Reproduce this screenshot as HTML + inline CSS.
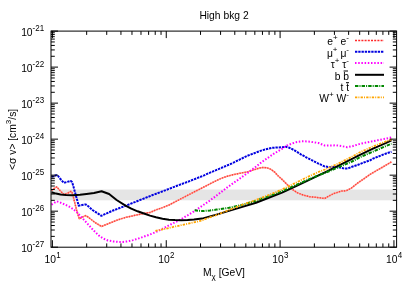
<!DOCTYPE html>
<html><head><meta charset="utf-8"><style>
html,body{margin:0;padding:0;background:#fff;}
svg{display:block;will-change:transform;opacity:0.999}
text{font-family:"Liberation Sans",sans-serif;font-size:10.3px;fill:#000}
.s{font-size:8px}
</style></head><body>
<svg width="415" height="291" viewBox="0 0 415 291">
<rect width="415" height="291" fill="#fff"/>
<rect x="51" y="189.5" width="345.6" height="10.8" fill="#e5e5e5"/>
<g fill="none" stroke-linejoin="round">
<path d="M51.5 190.3 L54.0 188.5 L56.8 186.9 L60.0 190.5 L63.7 194.4 L65.5 194.0 L68.0 193.0 L71.2 191.2 L72.2 193.0 L73.0 195.7 L76.8 210.7 L79.3 218.9 L82.0 217.3 L85.6 215.6 L88.0 217.0 L95.0 222.5 L101.5 226.5 L105.0 225.0 L112.5 222.0 L118.0 219.8 L125.0 217.6 L137.6 214.8 L146.0 213.0 L150.0 212.5 L156.0 209.9 L162.5 207.6 L169.0 205.0 L175.0 201.9 L179.4 199.6 L185.0 196.7 L190.0 194.1 L196.0 191.0 L202.3 187.8 L208.5 184.6 L214.8 181.4 L221.1 178.4 L227.3 176.2 L233.6 174.6 L239.9 173.3 L248.0 171.7 L252.0 170.4 L259.6 168.0 L263.0 167.4 L267.0 167.8 L271.0 169.4 L274.6 172.1 L278.0 175.8 L282.0 179.4 L287.0 184.4 L292.0 189.2 L297.0 192.6 L303.3 195.1 L309.6 196.7 L315.8 197.3 L319.6 197.8 L324.6 198.5 L328.4 196.3 L334.0 193.4 L336.3 192.8 L341.3 191.1 L346.3 190.7 L351.3 188.2 L357.6 183.2 L363.8 178.8 L370.1 174.4 L376.4 170.7 L382.0 167.5 L391.5 161.8" stroke="#ff9a90" stroke-width="1.5"/>
<path d="M51.5 190.3 L54.0 188.5 L56.8 186.9 L60.0 190.5 L63.7 194.4 L65.5 194.0 L68.0 193.0 L71.2 191.2 L72.2 193.0 L73.0 195.7 L76.8 210.7 L79.3 218.9 L82.0 217.3 L85.6 215.6 L88.0 217.0 L95.0 222.5 L101.5 226.5 L105.0 225.0 L112.5 222.0 L118.0 219.8 L125.0 217.6 L137.6 214.8 L146.0 213.0 L150.0 212.5 L156.0 209.9 L162.5 207.6 L169.0 205.0 L175.0 201.9 L179.4 199.6 L185.0 196.7 L190.0 194.1 L196.0 191.0 L202.3 187.8 L208.5 184.6 L214.8 181.4 L221.1 178.4 L227.3 176.2 L233.6 174.6 L239.9 173.3 L248.0 171.7 L252.0 170.4 L259.6 168.0 L263.0 167.4 L267.0 167.8 L271.0 169.4 L274.6 172.1 L278.0 175.8 L282.0 179.4 L287.0 184.4 L292.0 189.2 L297.0 192.6 L303.3 195.1 L309.6 196.7 L315.8 197.3 L319.6 197.8 L324.6 198.5 L328.4 196.3 L334.0 193.4 L336.3 192.8 L341.3 191.1 L346.3 190.7 L351.3 188.2 L357.6 183.2 L363.8 178.8 L370.1 174.4 L376.4 170.7 L382.0 167.5 L391.5 161.8" stroke="#ff4038" stroke-width="1.5" stroke-dasharray="1.2 1.4"/>
<path d="M51.5 176.8 L54.0 176.0 L56.3 175.2 L58.0 176.0 L60.0 178.5 L63.7 182.8 L67.0 182.0 L70.6 180.9 L72.0 182.0 L73.0 185.0 L78.7 205.7 L82.0 205.0 L85.6 204.4 L88.0 206.0 L92.5 210.0 L101.4 215.8 L112.5 210.7 L125.0 206.0 L137.6 201.0 L152.0 195.3 L164.5 190.6 L177.0 185.8 L189.6 181.1 L204.0 175.4 L208.5 173.3 L221.1 168.0 L232.0 163.4 L247.0 155.9 L262.0 150.3 L272.0 147.8 L282.0 147.2 L285.8 146.7 L289.5 147.8 L294.5 150.3 L300.8 154.3 L307.1 157.8 L313.3 161.0 L319.6 164.1 L324.6 166.4 L329.6 167.2 L337.6 166.9 L343.9 168.4 L347.6 168.5 L352.0 166.8 L357.6 165.0 L363.8 162.5 L370.1 160.3 L373.0 158.6 L385.6 153.7 L391.5 151.8" stroke="#0000e0" stroke-width="2" stroke-dasharray="2.35 0.9"/>
<path d="M51.5 204.6 L54.0 203.0 L56.8 201.3 L60.5 202.6 L65.5 204.8 L69.0 206.5 L73.0 209.0 L77.0 212.3 L80.6 216.3 L84.0 219.9 L88.1 224.4 L92.0 228.7 L95.6 232.4 L99.0 235.6 L103.1 238.5 L108.0 240.5 L113.2 241.4 L118.0 241.9 L123.2 241.9 L128.0 241.3 L133.2 240.1 L138.0 238.7 L143.2 236.9 L148.0 235.2 L150.0 234.5 L156.0 232.0 L162.5 228.8 L169.0 225.4 L175.0 222.3 L181.3 219.0 L187.6 215.3 L193.9 211.4 L202.0 205.9 L207.9 202.0 L214.8 196.9 L221.1 192.1 L227.3 187.4 L233.6 182.9 L239.9 178.5 L248.0 172.7 L255.0 167.4 L261.3 162.4 L267.6 158.0 L273.9 153.7 L282.0 148.8 L287.0 145.5 L292.0 143.5 L297.0 142.0 L301.0 141.4 L304.7 141.3 L311.0 141.8 L318.5 143.0 L321.5 144.2 L324.8 145.6 L330.0 145.5 L336.0 145.3 L342.0 146.2 L347.3 147.2 L353.0 146.0 L360.5 143.7 L373.0 141.2 L385.6 138.7 L391.5 137.4" stroke="#ff00ff" stroke-width="2" stroke-dasharray="1.5 1.7"/>
<path d="M51.5 192.3 L56.0 193.6 L60.5 194.6 L66.0 195.0 L73.0 195.2 L80.0 194.7 L86.5 193.9 L94.0 192.9 L101.6 191.2 L109.1 194.0 L116.6 200.0 L125.5 205.7 L131.3 208.7 L137.6 211.3 L143.9 213.5 L150.0 215.6 L156.0 217.3 L162.5 218.8 L169.0 219.7 L175.0 220.1 L181.3 220.2 L187.6 220.0 L193.9 219.5 L202.0 218.6 L210.0 216.4 L216.5 214.6 L229.0 210.9 L241.6 207.1 L256.0 202.7 L270.0 197.3 L282.0 192.6 L294.5 186.9 L307.1 180.8 L319.6 174.8 L325.0 172.3 L337.6 166.2 L352.0 158.9 L360.5 154.6 L373.0 148.7 L385.6 143.2 L391.5 140.4" stroke="#000" stroke-width="2"/>
<path d="M194.6 210.2 L199.0 210.8 L204.0 211.0 L210.0 210.5 L216.5 209.6 L229.0 207.8 L241.6 205.0 L256.0 200.7 L270.0 195.7 L282.0 191.2 L294.5 185.7 L307.1 180.2 L315.0 176.7 L325.0 172.9 L337.6 167.6 L352.0 161.5 L360.5 157.0 L373.0 151.6 L385.6 146.2 L391.5 143.7" stroke="#008800" stroke-width="2" stroke-dasharray="3.4 1.1 1 1.1"/>
<path d="M155.4 230.8 L162.0 229.5 L170.0 227.7 L175.0 226.5 L181.0 225.2 L187.6 223.8 L195.0 222.2 L202.0 220.6 L204.0 219.5 L216.5 215.0 L229.0 210.0 L241.6 205.0 L256.0 199.9 L270.0 194.5 L282.0 189.5 L294.5 183.4 L307.1 177.2 L319.6 171.5 L325.0 169.5 L337.6 163.9 L352.0 156.7 L360.5 152.0 L373.0 146.5 L385.6 141.5 L391.5 139.4" stroke="#ffa500" stroke-width="1.8" stroke-dasharray="2.3 1.1 1 1.2"/>
<!-- legend lines -->
<path d="M355 40.5H384" stroke="#ff2a2a" stroke-width="1.4" stroke-dasharray="2 1.2"/>
<path d="M355 51.8H384" stroke="#0000e0" stroke-width="2" stroke-dasharray="2.35 0.9"/>
<path d="M355 63.1H384" stroke="#ff00ff" stroke-width="2" stroke-dasharray="1.5 1.7"/>
<path d="M355 74.8H384" stroke="#000" stroke-width="2"/>
<path d="M355 86H384" stroke="#008800" stroke-width="2" stroke-dasharray="3.4 1.1 1 1.1"/>
<path d="M355 97.3H384" stroke="#ffa500" stroke-width="1.8" stroke-dasharray="2.3 1.1 1 1.2"/>
</g>
<path d="M52.40 247.20L52.40 240.20M52.40 31.10L52.40 38.10M86.67 247.20L86.67 243.40M86.67 31.10L86.67 34.90M106.72 247.20L106.72 243.40M106.72 31.10L106.72 34.90M120.94 247.20L120.94 243.40M120.94 31.10L120.94 34.90M131.98 247.20L131.98 243.40M131.98 31.10L131.98 34.90M140.99 247.20L140.99 243.40M140.99 31.10L140.99 34.90M148.61 247.20L148.61 243.40M148.61 31.10L148.61 34.90M155.22 247.20L155.22 243.40M155.22 31.10L155.22 34.90M161.04 247.20L161.04 243.40M161.04 31.10L161.04 34.90M166.25 247.20L166.25 240.20M166.25 31.10L166.25 38.10M200.52 247.20L200.52 243.40M200.52 31.10L200.52 34.90M220.57 247.20L220.57 243.40M220.57 31.10L220.57 34.90M234.79 247.20L234.79 243.40M234.79 31.10L234.79 34.90M245.83 247.20L245.83 243.40M245.83 31.10L245.83 34.90M254.84 247.20L254.84 243.40M254.84 31.10L254.84 34.90M262.46 247.20L262.46 243.40M262.46 31.10L262.46 34.90M269.07 247.20L269.07 243.40M269.07 31.10L269.07 34.90M274.89 247.20L274.89 243.40M274.89 31.10L274.89 34.90M280.10 247.20L280.10 240.20M280.10 31.10L280.10 38.10M314.37 247.20L314.37 243.40M314.37 31.10L314.37 34.90M334.42 247.20L334.42 243.40M334.42 31.10L334.42 34.90M348.64 247.20L348.64 243.40M348.64 31.10L348.64 34.90M359.68 247.20L359.68 243.40M359.68 31.10L359.68 34.90M368.69 247.20L368.69 243.40M368.69 31.10L368.69 34.90M376.31 247.20L376.31 243.40M376.31 31.10L376.31 34.90M382.92 247.20L382.92 243.40M382.92 31.10L382.92 34.90M388.74 247.20L388.74 243.40M388.74 31.10L388.74 34.90M393.95 247.20L393.95 240.20M393.95 31.10L393.95 38.10M51.00 31.10L58.00 31.10M396.60 31.10L389.60 31.10M51.00 56.27L54.80 56.27M396.60 56.27L392.80 56.27M51.00 49.93L54.80 49.93M396.60 49.93L392.80 49.93M51.00 45.43L54.80 45.43M396.60 45.43L392.80 45.43M51.00 41.94L54.80 41.94M396.60 41.94L392.80 41.94M51.00 39.09L54.80 39.09M396.60 39.09L392.80 39.09M51.00 36.68L54.80 36.68M396.60 36.68L392.80 36.68M51.00 34.59L54.80 34.59M396.60 34.59L392.80 34.59M51.00 32.75L54.80 32.75M396.60 32.75L392.80 32.75M51.00 67.12L58.00 67.12M396.60 67.12L389.60 67.12M51.00 92.29L54.80 92.29M396.60 92.29L392.80 92.29M51.00 85.95L54.80 85.95M396.60 85.95L392.80 85.95M51.00 81.45L54.80 81.45M396.60 81.45L392.80 81.45M51.00 77.96L54.80 77.96M396.60 77.96L392.80 77.96M51.00 75.11L54.80 75.11M396.60 75.11L392.80 75.11M51.00 72.70L54.80 72.70M396.60 72.70L392.80 72.70M51.00 70.61L54.80 70.61M396.60 70.61L392.80 70.61M51.00 68.76L54.80 68.76M396.60 68.76L392.80 68.76M51.00 103.13L58.00 103.13M396.60 103.13L389.60 103.13M51.00 128.31L54.80 128.31M396.60 128.31L392.80 128.31M51.00 121.97L54.80 121.97M396.60 121.97L392.80 121.97M51.00 117.47L54.80 117.47M396.60 117.47L392.80 117.47M51.00 113.98L54.80 113.98M396.60 113.98L392.80 113.98M51.00 111.12L54.80 111.12M396.60 111.12L392.80 111.12M51.00 108.71L54.80 108.71M396.60 108.71L392.80 108.71M51.00 106.62L54.80 106.62M396.60 106.62L392.80 106.62M51.00 104.78L54.80 104.78M396.60 104.78L392.80 104.78M51.00 139.15L58.00 139.15M396.60 139.15L389.60 139.15M51.00 164.32L54.80 164.32M396.60 164.32L392.80 164.32M51.00 157.98L54.80 157.98M396.60 157.98L392.80 157.98M51.00 153.48L54.80 153.48M396.60 153.48L392.80 153.48M51.00 149.99L54.80 149.99M396.60 149.99L392.80 149.99M51.00 147.14L54.80 147.14M396.60 147.14L392.80 147.14M51.00 144.73L54.80 144.73M396.60 144.73L392.80 144.73M51.00 142.64L54.80 142.64M396.60 142.64L392.80 142.64M51.00 140.80L54.80 140.80M396.60 140.80L392.80 140.80M51.00 175.17L58.00 175.17M396.60 175.17L389.60 175.17M51.00 200.34L54.80 200.34M396.60 200.34L392.80 200.34M51.00 194.00L54.80 194.00M396.60 194.00L392.80 194.00M51.00 189.50L54.80 189.50M396.60 189.50L392.80 189.50M51.00 186.01L54.80 186.01M396.60 186.01L392.80 186.01M51.00 183.16L54.80 183.16M396.60 183.16L392.80 183.16M51.00 180.75L54.80 180.75M396.60 180.75L392.80 180.75M51.00 178.66L54.80 178.66M396.60 178.66L392.80 178.66M51.00 176.81L54.80 176.81M396.60 176.81L392.80 176.81M51.00 211.18L58.00 211.18M396.60 211.18L389.60 211.18M51.00 236.36L54.80 236.36M396.60 236.36L392.80 236.36M51.00 230.02L54.80 230.02M396.60 230.02L392.80 230.02M51.00 225.52L54.80 225.52M396.60 225.52L392.80 225.52M51.00 222.03L54.80 222.03M396.60 222.03L392.80 222.03M51.00 219.17L54.80 219.17M396.60 219.17L392.80 219.17M51.00 216.76L54.80 216.76M396.60 216.76L392.80 216.76M51.00 214.67L54.80 214.67M396.60 214.67L392.80 214.67M51.00 212.83L54.80 212.83M396.60 212.83L392.80 212.83M51.00 247.20L58.00 247.20M396.60 247.20L389.60 247.20" stroke="#000" stroke-width="1" fill="none"/>
<rect x="51.0" y="31.1" width="345.6" height="216.1" fill="none" stroke="#000" stroke-width="1"/>
<text x="224" y="19.3" text-anchor="middle">High bkg 2</text>
<text x="32.6" y="35.6" text-anchor="end">10</text><text transform="translate(32.60,30.70) scale(1,1.2)" class="s" text-anchor="start">-21</text>
<text x="32.6" y="71.6" text-anchor="end">10</text><text transform="translate(32.60,66.72) scale(1,1.2)" class="s" text-anchor="start">-22</text>
<text x="32.6" y="107.6" text-anchor="end">10</text><text transform="translate(32.60,102.73) scale(1,1.2)" class="s" text-anchor="start">-23</text>
<text x="32.6" y="143.7" text-anchor="end">10</text><text transform="translate(32.60,138.75) scale(1,1.2)" class="s" text-anchor="start">-24</text>
<text x="32.6" y="179.7" text-anchor="end">10</text><text transform="translate(32.60,174.77) scale(1,1.2)" class="s" text-anchor="start">-25</text>
<text x="32.6" y="215.7" text-anchor="end">10</text><text transform="translate(32.60,210.78) scale(1,1.2)" class="s" text-anchor="start">-26</text>
<text x="32.6" y="251.7" text-anchor="end">10</text><text transform="translate(32.60,246.80) scale(1,1.2)" class="s" text-anchor="start">-27</text>

<text x="56.0" y="263" text-anchor="end">10</text><text transform="translate(56.20,258.10) scale(1,1.2)" class="s" text-anchor="start">1</text>
<text x="169.8" y="263" text-anchor="end">10</text><text transform="translate(170.05,258.10) scale(1,1.2)" class="s" text-anchor="start">2</text>
<text x="283.7" y="263" text-anchor="end">10</text><text transform="translate(283.90,258.10) scale(1,1.2)" class="s" text-anchor="start">3</text>
<text x="397.5" y="263" text-anchor="end">10</text><text transform="translate(397.75,258.10) scale(1,1.2)" class="s" text-anchor="start">4</text>

<text x="203" y="275.6">M<tspan class="s" dy="3">χ</tspan><tspan dy="-3"> [GeV]</tspan></text>
<text transform="translate(15.8,170) rotate(-90)">&lt;σ v&gt; [cm<tspan class="s" dy="-4.8">3</tspan><tspan dy="4.8">/s]</tspan></text>
<!-- legend text -->
<text x="349" y="45" text-anchor="end">e<tspan class="s" dy="-4.8">+</tspan><tspan dy="4.8"> e</tspan><tspan class="s" dy="-4.8">-</tspan></text>
<text x="349" y="56.6" text-anchor="end">μ<tspan class="s" dy="-4.8">+</tspan><tspan dy="4.8"> μ</tspan><tspan class="s" dy="-4.8">-</tspan></text>
<text x="349" y="67.8" text-anchor="end">τ<tspan class="s" dy="-4.8">+</tspan><tspan dy="4.8"> τ</tspan><tspan class="s" dy="-4.8">-</tspan></text>
<text x="349" y="79.7" text-anchor="end">b b</text>
<path d="M343.6 71H348" stroke="#000" stroke-width="1"/>
<text x="349" y="91.3" text-anchor="end">t t</text>
<path d="M346 82.7H349" stroke="#000" stroke-width="1"/>
<text x="349" y="102" text-anchor="end">W<tspan class="s" dy="-4.8">+</tspan><tspan dy="4.8"> W</tspan><tspan class="s" dy="-4.8">-</tspan></text>
</svg>
</body></html>
